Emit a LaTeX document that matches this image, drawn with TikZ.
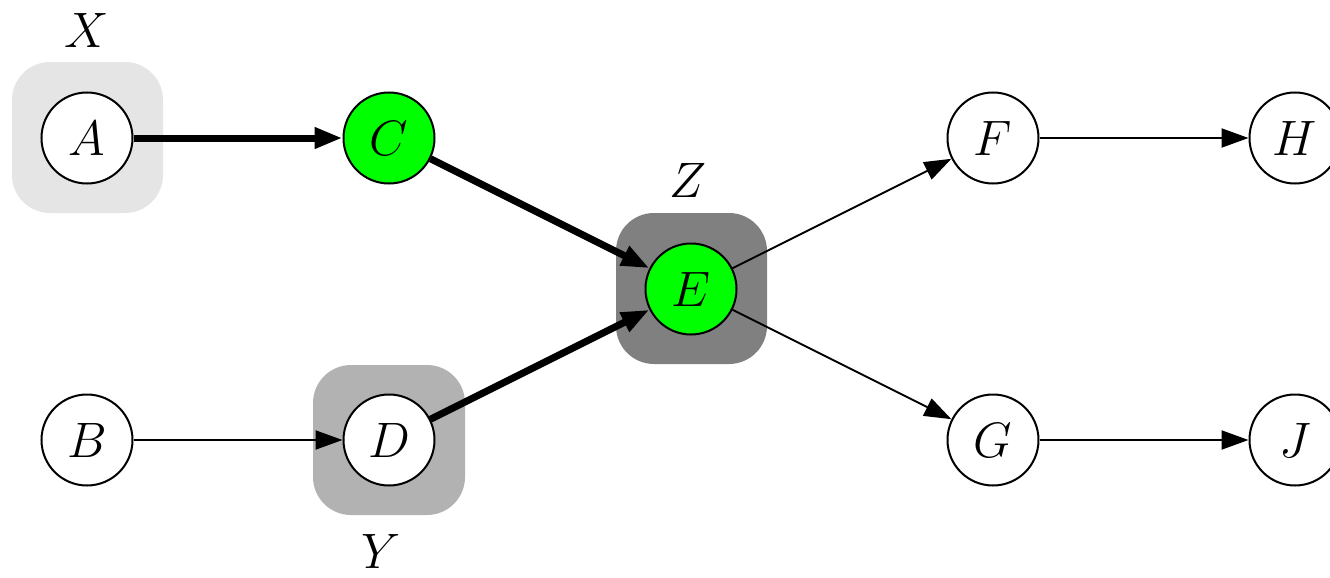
\documentclass[tikz,border=0pt]{standalone}
\usetikzlibrary{arrows.meta}
\begin{document}
\begin{tikzpicture}[x=0.5pt,y=-0.5pt,
  vnode/.style={circle,draw=black,line width=1pt,fill=white,minimum size=45.5pt,inner sep=0pt,font=\fontsize{29}{34}\selectfont},
  hl/.style={vnode,fill=green},
  grp/.style={rounded corners=19pt},
  lbl/.style={font=\fontsize{29}{34}\selectfont,inner sep=0pt},
  thin arr/.style={-{Triangle[length=13.5pt,width=9.5pt]},line width=1pt},
  thick arr/.style={-{Triangle[length=14pt,width=10pt]},line width=3.5pt}]
\useasboundingbox (0,0) rectangle (1330,578);
\clip (0,0) rectangle (1330,578);
% group boxes
\fill[gray!20,grp] (12,62) rectangle (163,213);
\fill[black!30,grp] (313,365) rectangle (465,515);
\fill[black!50,grp] (616,213) rectangle (767,364);
% nodes
\node[vnode] (A) at (87,138) {$A$};
\node[vnode] (B) at (87,440) {$B$};
\node[hl] (C) at (389,138) {$C$};
\node[vnode] (D) at (389,440) {$D$};
\node[hl] (E) at (691,289) {$E$};
\node[vnode] (F) at (993,138) {$F$};
\node[vnode] (G) at (993,440) {$G$};
\node[vnode] (H) at (1295,138) {$H$};
\node[vnode] (J) at (1295,440) {$J$};
% labels
\node[lbl] (lx) at (87,30) {$X$};
\node[lbl] (ly) at (381,551) {$Y$};
\node[lbl] (lz) at (688,180) {$Z$};
% edges
\draw[thick arr] (A) -- (C);
\draw[thick arr] (C) -- (E);
\draw[thick arr] (D) -- (E);
\draw[thin arr] (B) -- (D);
\draw[thin arr] (E) -- (F);
\draw[thin arr] (E) -- (G);
\draw[thin arr] (F) -- (H);
\draw[thin arr] (G) -- (J);
\end{tikzpicture}
\end{document}
